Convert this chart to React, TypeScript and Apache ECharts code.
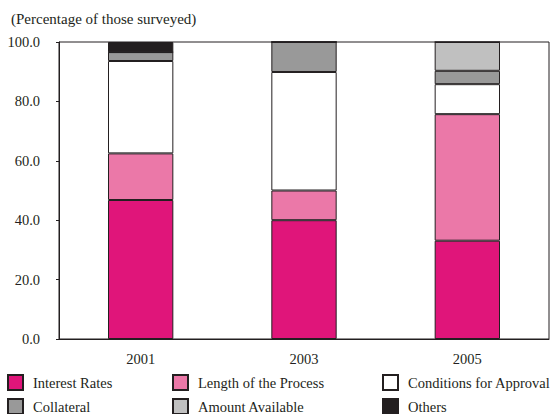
import React, { useEffect, useRef } from "react";
import * as echarts from "echarts";

const years = ["2001", "2003", "2005"];
const interestRates = [46.8, 40.0, 33.1];
const lengthOfProcess = [15.7, 10.0, 42.6];
const conditionsForApproval = [31.1, 39.9, 10.1];
const collateral = [3.0, 10.1, 4.5];
const amountAvailable = [0, 0, 9.7];
const others = [3.4, 0, 0];
const yTicks = [0, 20, 40, 60, 80, 100];

const seriesNames = [
  "Interest Rates",
  "Length of the Process",
  "Conditions for Approval",
  "Collateral",
  "Amount Available",
  "Others",
];
const seriesData = [interestRates, lengthOfProcess, conditionsForApproval, collateral, amountAvailable, others];
const seriesColors = ["#E0157A", "#EB78A8", "#FFFFFF", "#999999", "#C0C0C0", "#231F20"];

const FONT = "Times New Roman";
const FS = 14.5;
const INK = "#231F20";

export default function App() {
  const ref = useRef<HTMLDivElement>(null);
  useEffect(() => {
    if (!ref.current) return;
    const chart = echarts.init(ref.current, undefined, { renderer: "svg" });
    const legendPos = [
      { left: 7, top: 374 },
      { left: 172, top: 374 },
      { left: 382, top: 374 },
      { left: 7, top: 398 },
      { left: 172, top: 398 },
      { left: 382, top: 398 },
    ];
    chart.setOption({
      animation: false,
      backgroundColor: "#FFFFFF",
      textStyle: { fontFamily: FONT },
      title: {
        text: "(Percentage of those surveyed)",
        left: 6,
        top: 6,
        textStyle: { fontFamily: FONT, fontSize: 15, fontWeight: "normal", color: INK },
      },
      grid: {
        left: 59,
        right: 2,
        top: 42,
        bottom: 75,
        show: true,
        borderColor: INK,
        borderWidth: 1,
        backgroundColor: "transparent",
      },
      legend: seriesNames.map((n, i) => ({
        data: [n],
        left: legendPos[i].left,
        top: legendPos[i].top,
        padding: 0,
        itemWidth: 15,
        itemHeight: 15,
        icon: "rect",
        textStyle: { fontFamily: FONT, fontSize: FS, color: INK, padding: [0, 0, 0, 5] },
        selectedMode: false,
      })),
      xAxis: {
        type: "category",
        data: years,
        axisLine: { lineStyle: { color: INK, width: 1 } },
        axisTick: { show: false },
        axisLabel: { fontFamily: FONT, fontSize: FS, color: INK, margin: 12 },
      },
      yAxis: {
        type: "value",
        min: yTicks[0],
        max: yTicks[yTicks.length - 1],
        interval: 20,
        axisLine: { show: true, lineStyle: { color: INK, width: 1 } },
        axisTick: { show: true, length: 3, lineStyle: { color: INK } },
        splitLine: { show: false },
        axisLabel: {
          fontFamily: FONT,
          fontSize: FS,
          color: INK,
          margin: 19,
          formatter: (v: number) => v.toFixed(1),
        },
      },
      series: seriesNames.map((n, i) => ({
        name: n,
        type: "bar",
        stack: "total",
        data: seriesData[i],
        barWidth: "40%",
        itemStyle: { color: seriesColors[i], borderColor: INK, borderWidth: 1 },
      })),
    });
    return () => chart.dispose();
  }, []);
  return <div ref={ref} style={{ width: 551, height: 414, position: "absolute", left: 0, top: 0 }} />;
}
